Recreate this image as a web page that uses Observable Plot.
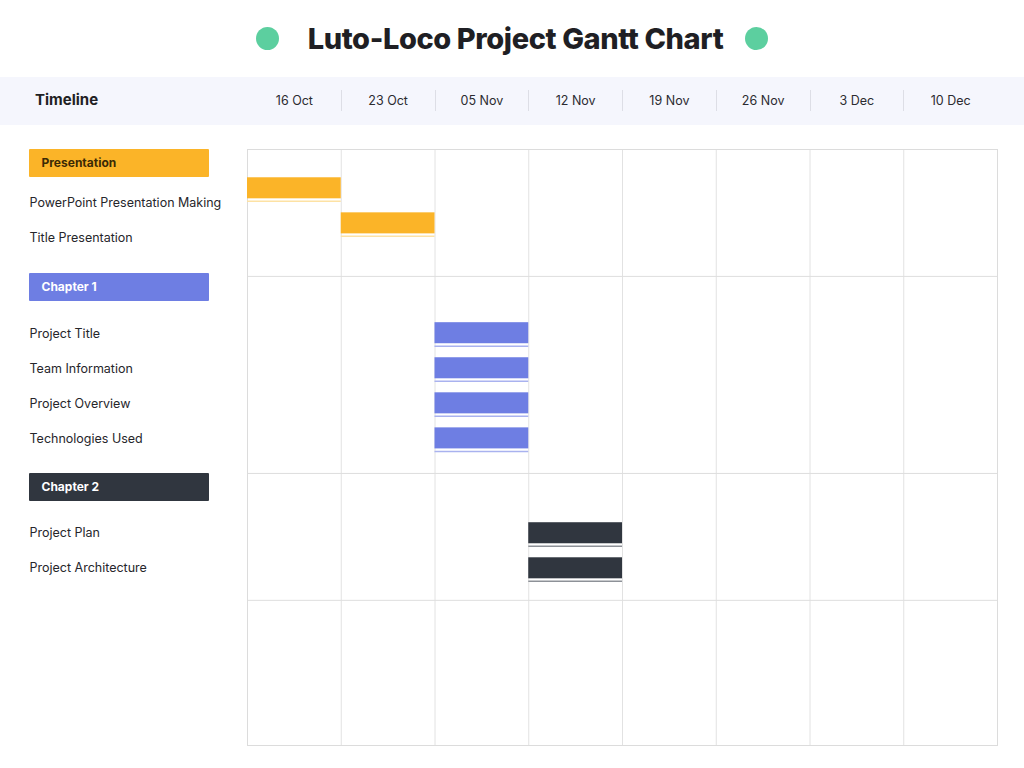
<!DOCTYPE html>
<html>
<head>
<meta charset="utf-8">
<script src="https://cdn.jsdelivr.net/npm/d3@7"></script>
<script src="https://cdn.jsdelivr.net/npm/@observablehq/plot@0.6"></script>
<style>
  body { margin: 0; background: #fff; font-family: Inter, "Noto Sans", sans-serif; }
  #page { position: relative; width: 1024px; height: 768px; overflow: hidden; background: #fff; }
  #title { position: absolute; top: 0; left: 0; width: 1024px; height: 77px; display: flex; align-items: center; justify-content: center; }
  #title h1 { margin: 0 22px 0 29px; font-size: 29px; font-weight: 800; color: #1f1f24; letter-spacing: -0.4px; }
  #title .dot { width: 23px; height: 23px; border-radius: 50%; background: #5ccf9f; }
  #band { position: absolute; top: 77px; left: 0; width: 1024px; height: 48px; background: #f5f6fd; }
  #band .lbl { position: absolute; left: 35px; top: 0; line-height: 46px; font-size: 15px; font-weight: 700; color: #1f1f24; }
  .sep { position: absolute; width: 1px; background: #dddee6; }
  .hdr { position: absolute; border-radius: 1px; }
  #chart { position: absolute; top: 77px; left: 0; }
</style>
</head>
<body>
<div id="page">
  <div id="title"><div class="dot"></div><h1>Luto-Loco Project Gantt Chart</h1><div class="dot"></div></div>
  <div id="band"><div class="lbl">Timeline</div></div>
  <div id="chart"></div>
</div>
<script>
// ---- data ----
const weeks = ["16 Oct", "23 Oct", "05 Nov", "12 Nov", "19 Nov", "26 Nov", "3 Dec", "10 Dec"];
const sections = ["Presentation", "Chapter 1", "Chapter 2"];
const tasks = ["PowerPoint Presentation Making", "Title Presentation", "Project Title", "Team Information", "Project Overview", "Technologies Used", "Project Plan", "Project Architecture"];
const taskSection = ["Presentation", "Presentation", "Chapter 1", "Chapter 1", "Chapter 1", "Chapter 1", "Chapter 2", "Chapter 2"];
const taskStart = ["16 Oct", "23 Oct", "05 Nov", "05 Nov", "05 Nov", "05 Nov", "12 Nov", "12 Nov"];
const taskWeeks = [1, 1, 1, 1, 1, 1, 1, 1];

// ---- styles ----
const sectionFill = {"Presentation": "#fbb428", "Chapter 1": "#6e7ee3", "Chapter 2": "#30363f"};
const sectionLine = {"Presentation": "#fde2a4", "Chapter 1": "#a9b2ef", "Chapter 2": "#8d9197"};
const headerText = {"Presentation": "#3b2a05", "Chapter 1": "#ffffff", "Chapter 2": "#ffffff"};
const barShift = {"Presentation": -18, "Chapter 1": 0, "Chapter 2": 3};
const labelShift = {"Presentation": -3, "Chapter 1": 1, "Chapter 2": 3};
const headerShift = {"Presentation": 0, "Chapter 1": -3, "Chapter 2": 0};

// ---- row layout (in row units) ----
const HEADER_OFF = 0.4, FIRST_TASK = 1.62, STEP = 1, TAIL = 1.0, ROWS = 17;
let cursor = 0;
const headers = [], rows = [], sectionEnds = [];
for (const s of sections) {
  headers.push({section: s, y: cursor + HEADER_OFF});
  const idx = tasks.map((t, i) => i).filter(i => taskSection[i] === s);
  idx.forEach((i, k) => {
    const x1 = weeks.indexOf(taskStart[i]);
    rows.push({name: tasks[i], section: s, y: cursor + FIRST_TASK + k * STEP, x1, x2: x1 + taskWeeks[i]});
  });
  cursor = rows[rows.length - 1].y + TAIL;
  sectionEnds.push(cursor);
}
const boundaries = d3.range(weeks.length + 1);
const weekCols = weeks.map((w, i) => ({label: w, x: i + 0.5}));

const BAR = 0.3;
const chart = Plot.plot({
  width: 1024,
  height: 691,
  marginTop: 72,
  marginBottom: 23,
  marginLeft: 247,
  marginRight: 27,
  style: {background: "transparent", fontFamily: "Inter, 'Noto Sans', sans-serif"},
  x: {domain: [0, weeks.length], axis: null},
  y: {domain: [ROWS, 0], axis: null},
  marks: [
    Plot.ruleX(boundaries, {x: d => d, stroke: "#e2e2e2", strokeWidth: 1}),
    Plot.ruleY(sectionEnds, {y: d => d, stroke: "#dedede", strokeWidth: 1}),
    Plot.frame({stroke: "#dcdcdc"}),
    ...sections.map(s => Plot.rect(rows.filter(r => r.section === s), {
      x1: "x1", x2: "x2", y1: d => d.y - BAR, y2: d => d.y + BAR,
      fill: sectionFill[s], dy: barShift[s], inset: 0
    })),
    ...sections.map(s => Plot.ruleY(rows.filter(r => r.section === s), {
      x1: "x1", x2: "x2", y: d => d.y + BAR, dy: barShift[s] + 2.5,
      stroke: sectionLine[s], strokeWidth: 1.5
    })),
    Plot.text(weekCols, {x: "x", text: "label", frameAnchor: "top", dy: -53, fontSize: 12.5, fill: "#2b2b30"}),
    ...sections.map(s => Plot.text(rows.filter(r => r.section === s), {
      y: "y", text: "name", frameAnchor: "left", dx: -218, dy: labelShift[s],
      textAnchor: "start", fontSize: 12.5, fill: "#26262b"
    })),
    ...sections.map(s => Plot.text(headers.filter(h => h.section === s), {
      y: "y", text: "section", frameAnchor: "left", dx: -206, dy: headerShift[s],
      textAnchor: "start", fontSize: 12, fontWeight: 700, fill: headerText[s]
    }))
  ]
});
document.getElementById("chart").appendChild(chart);

// overlays positioned through the chart's own scales
const sx = chart.scale("x"), sy = chart.scale("y");
const X = sx.apply ? v => sx.apply(v) : d3.scaleLinear(sx.domain, sx.range);
const Y = sy.apply ? v => sy.apply(v) : d3.scaleLinear(sy.domain, sy.range);
const band = document.getElementById("band");
boundaries.slice(1, -1).forEach(b => {
  const d = document.createElement("div");
  d.className = "sep";
  d.style.left = Math.round(X(b)) + "px";
  d.style.top = "13px";
  d.style.height = "21px";
  band.appendChild(d);
});
const page = document.getElementById("page");
headers.forEach(h => {
  const d = document.createElement("div");
  d.className = "hdr";
  d.style.left = "29px";
  d.style.width = "180px";
  d.style.height = "28px";
  d.style.top = (77 + Y(h.y) + headerShift[h.section] - 14) + "px";
  d.style.background = sectionFill[h.section];
  page.insertBefore(d, document.getElementById("chart"));
});
</script>
</body>
</html>
